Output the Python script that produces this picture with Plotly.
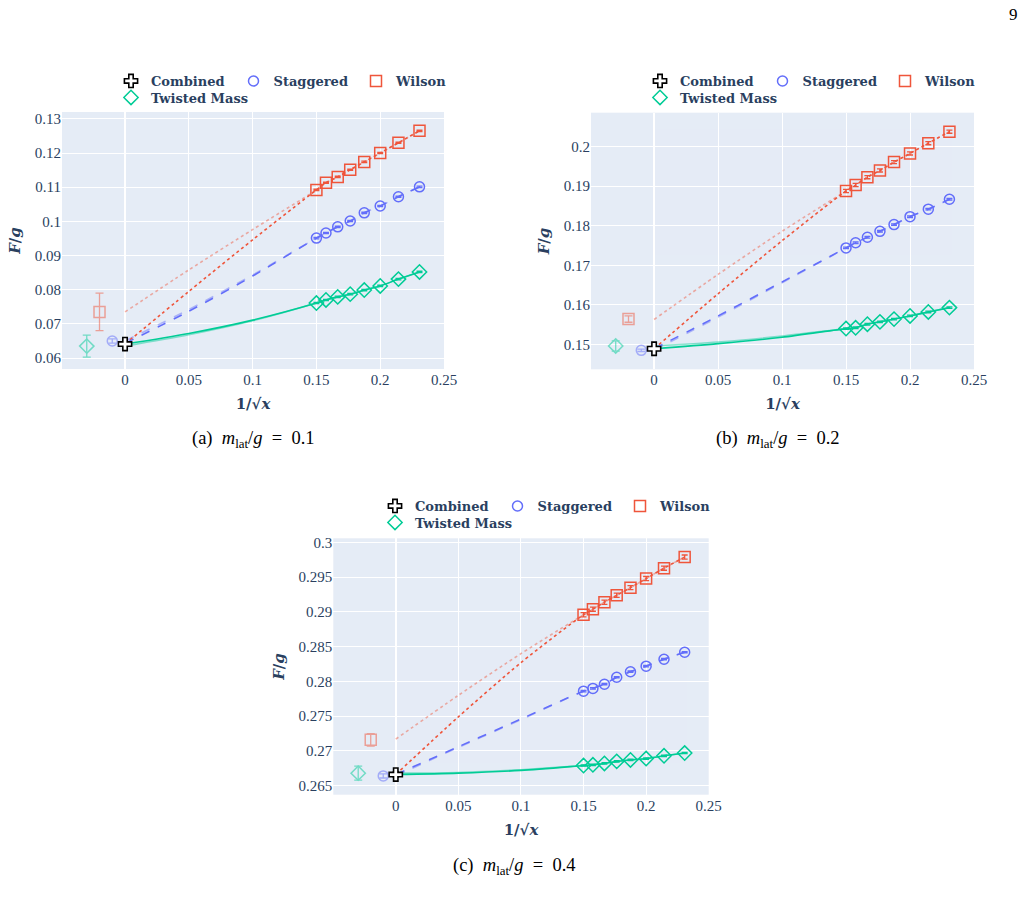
import plotly.graph_objects as go

# ---------------- data ----------------
X_DATA = [0.15, 0.1575, 0.1667, 0.1765, 0.1875, 0.2, 0.2143, 0.2308]
X_FIT = [0.0, 0.05, 0.1]          # fit curve abscissae before the data range
X_OFF = {"tm": -0.03, "wilson": -0.02, "stag": -0.01, "comb": 0.0}

# panel (a) m_lat/g = 0.1
WILSON_A = [0.1092, 0.1113, 0.1130, 0.1151, 0.1174, 0.1200, 0.1230, 0.1265]
STAG_A = [0.0951, 0.0966, 0.0984, 0.1001, 0.1025, 0.1045, 0.1072, 0.1101]
TM_A = [0.0761, 0.0770, 0.0779, 0.0787, 0.0799, 0.0811, 0.0831, 0.0852]
WILSON_ERR_A = [0.0002] * 8
STAG_ERR_A = [0.0002] * 8
TM_ERR_A = [0.0002] * 8
WILSON_FIT_A = [0.0641, 0.0795, 0.0946]
WILSON_IND_A = [0.0735, 0.0858, 0.0976]
STAG_FIT_A = [0.0643, 0.0737, 0.0840]
STAG_IND_A = [0.0650, 0.0742, 0.0843]
TM_FIT_A = [0.0641, 0.0672, 0.0711]
TM_IND_A = [0.0635, 0.0668, 0.0709]
EXTRAP_A = {"tm": (0.0635, 0.0032), "wilson": (0.0735, 0.0055),
            "stag": (0.0650, 0.0006), "comb": (0.0641, 0.0005)}

# panel (b) m_lat/g = 0.2
WILSON_B = [0.1888, 0.1903, 0.1923, 0.1940, 0.1961, 0.1983, 0.2009, 0.2038]
STAG_B = [0.1744, 0.1757, 0.1771, 0.1786, 0.1803, 0.1823, 0.1842, 0.1867]
TM_B = [0.1540, 0.1542, 0.1551, 0.1557, 0.1564, 0.1572, 0.1582, 0.1593]
WILSON_ERR_B = [0.0004] * 8
STAG_ERR_B = [0.0002] * 8
TM_ERR_B = [0.0002] * 8
WILSON_FIT_B = [0.1489, 0.1628, 0.1762]
WILSON_IND_B = [0.1563, 0.1677, 0.1786]
STAG_FIT_B = [0.1489, 0.1572, 0.1658]
STAG_IND_B = [0.1485, 0.1569, 0.1656]
TM_FIT_B = [0.1489, 0.1502, 0.1518]
TM_IND_B = [0.1496, 0.1506, 0.1521]
EXTRAP_B = {"tm": (0.1496, 0.0013), "wilson": (0.1564, 0.0008),
            "stag": (0.1485, 0.0003), "comb": (0.1489, 0.0004)}

# panel (c) m_lat/g = 0.4
WILSON_C = [0.2896, 0.2904, 0.2914, 0.2924, 0.2935, 0.2948, 0.2963, 0.2979]
STAG_C = [0.2786, 0.2790, 0.2796, 0.2806, 0.2814, 0.2822, 0.2832, 0.2842]
TM_C = [0.2679, 0.2680, 0.2682, 0.2685, 0.2687, 0.2689, 0.2693, 0.2697]
WILSON_ERR_C = [0.0003] * 8
STAG_ERR_C = [0.0001] * 8
TM_ERR_C = [0.0001] * 8
WILSON_FIT_C = [0.2666, 0.2749, 0.2827]
WILSON_IND_C = [0.2717, 0.2780, 0.2840]
STAG_FIT_C = [0.2666, 0.2706, 0.2746]
STAG_IND_C = [0.2664, 0.2705, 0.2745]
TM_FIT_C = [0.2666, 0.2668, 0.2672]
TM_IND_C = [0.2668, 0.2669, 0.2673]
EXTRAP_C = {"tm": (0.2668, 0.0010), "wilson": (0.2716, 0.0009),
            "stag": (0.2664, 0.0003), "comb": (0.2666, 0.0004)}

NB = "\u00a0"
CAPTIONS = [f"(a){NB}{NB}<i>m</i><sub>lat</sub>/<i>g</i>{NB}{NB}={NB}{NB}0.1",
            f"(b){NB}{NB}<i>m</i><sub>lat</sub>/<i>g</i>{NB}{NB}={NB}{NB}0.2",
            f"(c){NB}{NB}<i>m</i><sub>lat</sub>/<i>g</i>{NB}{NB}={NB}{NB}0.4"]

# ---------------- styling ----------------
BLUE, RED, GREEN = "#636efa", "#EF553B", "#00cc96"
TXT = "#2a3f5f"
TICKFONT = dict(family="Liberation Serif", size=15, color=TXT)
LEGFONT = dict(family="DejaVu Serif", size=13, color=TXT, weight="bold")
TITLEFONT = dict(family="DejaVu Serif", size=15, color=TXT)

panels = [
    dict(ax="", w=WILSON_A, s=STAG_A, t=TM_A, we=WILSON_ERR_A, se=STAG_ERR_A, te=TM_ERR_A,
         wf=WILSON_FIT_A, wi=WILSON_IND_A, sf=STAG_FIT_A, si=STAG_IND_A, tf=TM_FIT_A, ti=TM_IND_A,
         ex=EXTRAP_A, leg1="legend", leg2="legend2"),
    dict(ax="2", w=WILSON_B, s=STAG_B, t=TM_B, we=WILSON_ERR_B, se=STAG_ERR_B, te=TM_ERR_B,
         wf=WILSON_FIT_B, wi=WILSON_IND_B, sf=STAG_FIT_B, si=STAG_IND_B, tf=TM_FIT_B, ti=TM_IND_B,
         ex=EXTRAP_B, leg1="legend3", leg2="legend4"),
    dict(ax="3", w=WILSON_C, s=STAG_C, t=TM_C, we=WILSON_ERR_C, se=STAG_ERR_C, te=TM_ERR_C,
         wf=WILSON_FIT_C, wi=WILSON_IND_C, sf=STAG_FIT_C, si=STAG_IND_C, tf=TM_FIT_C, ti=TM_IND_C,
         ex=EXTRAP_C, leg1="legend5", leg2="legend6"),
]

fig = go.Figure()
x_line = X_FIT + X_DATA

for p in panels:
    xa, ya = "x" + p["ax"], "y" + p["ax"]
    common = dict(xaxis=xa, yaxis=ya)
    # fit curves (individual: faded, combined: full)
    for vals, base, col, dash, op in [
        (p["wi"], p["w"], RED, "dot", 0.45), (p["si"], p["s"], BLUE, "dash", 0.45),
        (p["ti"], p["t"], GREEN, "solid", 0.45),
        (p["wf"], p["w"], RED, "dot", 1.0), (p["sf"], p["s"], BLUE, "dash", 1.0),
        (p["tf"], p["t"], GREEN, "solid", 1.0)]:
        fig.add_trace(go.Scatter(x=x_line, y=vals + base, mode="lines", opacity=op,
                                 line=dict(color=col, dash=dash, width=1.6, shape="spline", smoothing=0.8),
                                 showlegend=False, hoverinfo="skip", **common))
    # extrapolated (faded) points at offset positions
    for key, col, sym, size in [("tm", GREEN, "diamond-open", 11), ("wilson", RED, "square-open", 11),
                                ("stag", BLUE, "circle-open", 10)]:
        v, e = p["ex"][key]
        fig.add_trace(go.Scatter(x=[X_OFF[key]], y=[v], mode="markers", opacity=0.5,
                                 marker=dict(symbol=sym, size=size, color=col, line=dict(width=1.5)),
                                 error_y=dict(type="data", array=[e], color=col, thickness=1.3, width=4),
                                 showlegend=False, **common))
    # data points
    fig.add_trace(go.Scatter(x=X_DATA, y=p["s"], mode="markers", name="Staggered", legend=p["leg1"],
                             legendrank=2,
                             marker=dict(symbol="circle-open", size=10, color=BLUE, line=dict(width=1.5)),
                             error_y=dict(type="data", array=p["se"], color=BLUE, thickness=1.3, width=3),
                             **common))
    fig.add_trace(go.Scatter(x=X_DATA, y=p["w"], mode="markers", name="Wilson", legend=p["leg1"],
                             legendrank=3,
                             marker=dict(symbol="square-open", size=11, color=RED, line=dict(width=1.5)),
                             error_y=dict(type="data", array=p["we"], color=RED, thickness=1.3, width=3),
                             **common))
    fig.add_trace(go.Scatter(x=X_DATA, y=p["t"], mode="markers", name="Twisted Mass", legend=p["leg2"],
                             marker=dict(symbol="diamond-open", size=11, color=GREEN, line=dict(width=1.5)),
                             error_y=dict(type="data", array=p["te"], color=GREEN, thickness=1.3, width=3),
                             **common))
    v, e = p["ex"]["comb"]
    fig.add_trace(go.Scatter(x=[X_OFF["comb"]], y=[v], mode="markers", name="Combined", legend=p["leg1"],
                             legendrank=1,
                             marker=dict(symbol="cross", size=11, color="white", line=dict(width=1.6, color="black")),
                             error_y=dict(type="data", array=[e], color="black", thickness=1.3, width=3),
                             **common))

# ---------------- layout ----------------
def xaxis(domain, rng, anchor):
    return dict(domain=domain, range=rng, anchor=anchor, dtick=0.05, tick0=0, tickfont=TICKFONT,
                gridcolor="white", zerolinecolor="white", zerolinewidth=2, showline=False,
                automargin=False,
                title=dict(text="<b>1/√<i>x</i></b>", font=TITLEFONT, standoff=11))

def yaxis(domain, rng, anchor, dtick):
    return dict(domain=domain, range=rng, anchor=anchor, dtick=dtick, tickfont=TICKFONT,
                gridcolor="white", zerolinecolor="white", showline=False, automargin=False,
                title=dict(text="<b><i>F</i>/<i>g</i></b>", font=TITLEFONT, standoff=10))

W, H = 1028, 905

def legend(xpix, ypix, ew=None):
    d = dict(orientation="h", x=xpix / W, y=1 - ypix / H, xanchor="left", yanchor="middle",
             font=LEGFONT, bgcolor="rgba(0,0,0,0)", traceorder="normal", itemclick=False)
    if ew:
        d.update(entrywidth=ew, entrywidthmode="pixels")
    return d

fig.update_layout(
    width=W, height=H, margin=dict(l=0, r=0, t=0, b=0),
    paper_bgcolor="white", plot_bgcolor="#E5ECF6",
    xaxis=xaxis([62 / W, 444 / W], [-0.0494, 0.25], "y"),
    yaxis=yaxis([1 - 369 / H, 1 - 112 / H], [0.0568, 0.1320], "x", 0.01),
    xaxis2=xaxis([591 / W, 974 / W], [-0.0493, 0.25], "y2"),
    yaxis2=yaxis([1 - 369.3 / H, 1 - 112.7 / H], [0.1437, 0.2086], "x2", 0.01),
    xaxis3=xaxis([333.3 / W, 708.7 / W], [-0.0499, 0.25], "y3"),
    yaxis3=yaxis([1 - 794.7 / H, 1 - 538.3 / H], [0.2637, 0.3006], "x3", 0.005),
    legend=legend(111, 81, 77.5), legend2=legend(111, 97.5),
    legend3=legend(640, 81, 77.5), legend4=legend(640, 97.5),
    legend5=legend(375, 506, 77.5), legend6=legend(375, 522.5),
    showlegend=True,
)

CAP_POS = [(253, 439), (778, 439), (514, 866)]
for text, (cx, cy) in zip(CAPTIONS, CAP_POS):
    fig.add_annotation(text=text, x=cx / W, y=1 - cy / H, xref="paper", yref="paper",
                       showarrow=False, xanchor="center", yanchor="middle",
                       font=dict(family="Liberation Serif", size=18.5, color="black"))
fig.add_annotation(text="9", x=1013 / W, y=1 - 15 / H, xref="paper", yref="paper", showarrow=False,
                   xanchor="center", yanchor="middle", font=dict(family="Liberation Serif", size=17, color="black"))

fig.write_html("out.html")
